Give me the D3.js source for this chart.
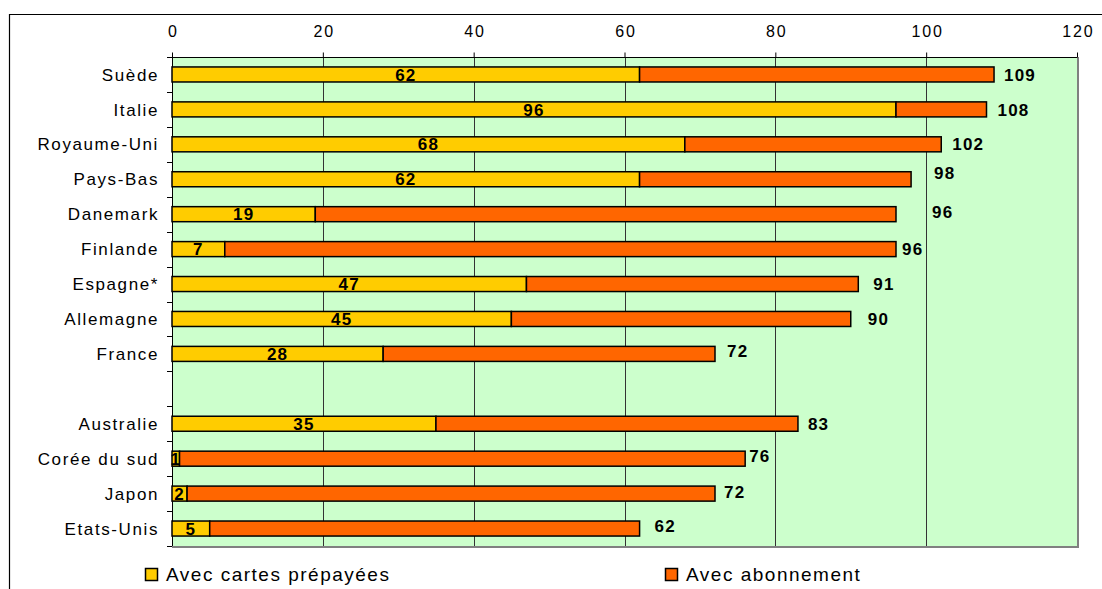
<!DOCTYPE html>
<html><head><meta charset="utf-8">
<script src="https://cdn.jsdelivr.net/npm/d3@7"></script>
<style>
html,body{margin:0;padding:0;background:#fff;}
svg{display:block;font-family:"Liberation Sans",Arial,sans-serif;}
</style></head>
<body>
<svg id="chart" width="1102" height="589"></svg>
<script>
const categories = ["Suède","Italie","Royaume-Uni","Pays-Bas","Danemark","Finlande","Espagne*","Allemagne","France","","Australie","Corée du sud","Japon","Etats-Unis"];
const prepaid = [62,96,68,62,19,7,47,45,28,null,35,1,2,5];
const total   = [109,108,102,98,96,96,91,90,72,null,83,76,72,62];
const xTicks = [0,20,40,60,80,100,120];
const seriesNames = ["Avec cartes prépayées","Avec abonnement"];
const seriesColors = ["#FFCC00","#FF6600"];
// layout: manual nudges (px) of the total labels, as placed in the reference
const totalLabelNudge = [[10,0],[11,0],[11,0],[23,-6],[36,-2],[6,0],[15,0],[17,0],[12,-3],null,[10,0],[4,-3],[9,-2],[15,-3]];

const svg = d3.select("#chart");
const L = 172, R = 1077, T = 57, B = 546;

// outer frame
svg.append("line").attr("x1",9).attr("x2",1102).attr("y1",14.5).attr("y2",14.5).attr("stroke","#000").attr("stroke-width",1.2);
svg.append("line").attr("x1",9.5).attr("x2",9.5).attr("y1",14).attr("y2",589).attr("stroke","#000").attr("stroke-width",1.2);

const x = d3.scaleLinear().domain([0,120]).range([L,R]);
const idx = d3.range(categories.length);
const y = d3.scaleBand().domain(idx).range([T,B]).paddingInner(0.57).paddingOuter(0.285);
const step = y.step();

// plot background
svg.append("rect").attr("x",L).attr("y",T).attr("width",R-L).attr("height",B-T).attr("fill","#CCFFCC");

// gridlines
svg.append("g").selectAll("line").data(xTicks.filter(d=>d>0 && d<120)).join("line")
  .attr("x1",d=>Math.round(x(d))+0.5).attr("x2",d=>Math.round(x(d))+0.5)
  .attr("y1",T).attr("y2",B).attr("stroke","#333").attr("stroke-width",1);

// plot border: right & bottom grey
svg.append("line").attr("x1",R+1).attr("x2",R+1).attr("y1",T).attr("y2",B+2).attr("stroke","#808080").attr("stroke-width",2);
svg.append("line").attr("x1",L).attr("x2",R+2).attr("y1",B+1).attr("y2",B+1).attr("stroke","#808080").attr("stroke-width",2);

// top axis
const xAxis = d3.axisTop(x).tickValues(xTicks).tickSize(5).tickPadding(16).tickFormat(d3.format("d"));
const gx = svg.append("g").attr("transform",`translate(0,${T+0.5})`).call(xAxis);
gx.select(".domain").attr("stroke","#000").attr("d",`M${L},0H${R}`);
gx.selectAll(".tick line").attr("stroke","#000");
gx.selectAll(".tick text").attr("fill","#000").attr("dx","0.9px").style("font-size","16px").style("letter-spacing","1.8px")
  .style("font-family","'Liberation Sans',Arial,sans-serif");

// left axis line + boundary ticks
svg.append("line").attr("x1",L+0.5).attr("x2",L+0.5).attr("y1",T).attr("y2",B).attr("stroke","#000").attr("stroke-width",1);
svg.append("g").selectAll("line").data(d3.range(categories.length+1)).join("line")
  .attr("x1",L-5).attr("x2",L).attr("y1",d=>Math.round(T+d*step)+0.5).attr("y2",d=>Math.round(T+d*step)+0.5)
  .attr("stroke","#000");

// category labels
svg.append("g").selectAll("text").data(idx).join("text")
  .attr("x",159).attr("y",i=>y(i)+y.bandwidth()/2).attr("dy","0.36em")
  .attr("text-anchor","end").style("font-size","17px").style("letter-spacing","1.6px")
  .text(i=>categories[i]);

const rows = idx.filter(i=>total[i]!=null);

// prepaid bars
svg.append("g").selectAll("rect").data(rows).join("rect")
  .attr("x",x(0)).attr("y",i=>y(i)).attr("width",i=>x(prepaid[i])-x(0)).attr("height",y.bandwidth())
  .attr("fill",seriesColors[0]).attr("stroke","#000").attr("stroke-width",1.5);
// subscription bars
svg.append("g").selectAll("rect").data(rows).join("rect")
  .attr("x",i=>x(prepaid[i])).attr("y",i=>y(i)).attr("width",i=>x(total[i])-x(prepaid[i])).attr("height",y.bandwidth())
  .attr("fill",seriesColors[1]).attr("stroke","#000").attr("stroke-width",1.5);

// prepaid value labels
svg.append("g").selectAll("text").data(rows).join("text")
  .attr("x",i=>(x(0)+x(prepaid[i]))/2).attr("y",i=>y(i)+y.bandwidth()/2).attr("dy","0.36em")
  .attr("text-anchor","middle").style("font-size","17px").style("font-weight","bold").style("letter-spacing","1.2px")
  .text(i=>prepaid[i]);

// total labels
svg.append("g").selectAll("text").data(rows).join("text")
  .attr("x",i=>x(total[i])+totalLabelNudge[i][0]).attr("y",i=>y(i)+y.bandwidth()/2+totalLabelNudge[i][1]).attr("dy","0.36em")
  .attr("text-anchor","start").style("font-size","17px").style("font-weight","bold").style("letter-spacing","1.2px")
  .text(i=>total[i]);

// legend
const legX = [145,665];
const lg = svg.append("g").selectAll("g").data(seriesNames).join("g")
  .attr("transform",(d,i)=>`translate(${legX[i]},568)`);
lg.append("rect").attr("x",0.5).attr("y",0.5).attr("width",12).attr("height",12)
  .attr("fill",(d,i)=>seriesColors[i]).attr("stroke","#000").attr("stroke-width",1.5);
lg.append("text").attr("x",21).attr("y",6.5).attr("dy","0.36em")
  .style("font-size","19px").style("letter-spacing","1.5px").text(d=>d);
</script>
</body></html>
